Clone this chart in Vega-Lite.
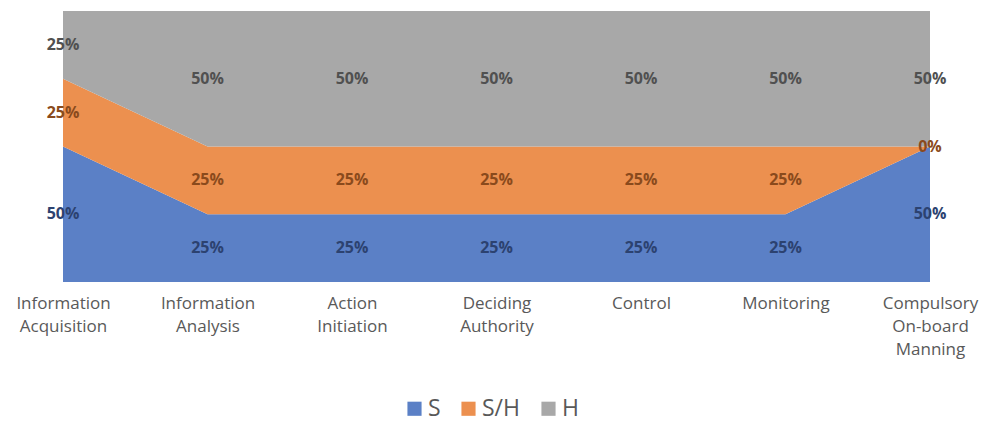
{
  "$schema": "https://vega.github.io/schema/vega-lite/v6.json",
  "autosize": {"type": "none"},
  "width": 867,
  "height": 271,
  "padding": {"left": 63, "top": 11, "right": 52, "bottom": 141},
  "background": "#ffffff",
  "config": {"view": {"stroke": null}, "font": "Open Sans"},
  "data": {
    "values": [
      {"category": "Information Acquisition", "series": "S", "value": 0.5},
      {"category": "Information Acquisition", "series": "S/H", "value": 0.25},
      {"category": "Information Acquisition", "series": "H", "value": 0.25},
      {"category": "Information Analysis", "series": "S", "value": 0.25},
      {"category": "Information Analysis", "series": "S/H", "value": 0.25},
      {"category": "Information Analysis", "series": "H", "value": 0.5},
      {"category": "Action Initiation", "series": "S", "value": 0.25},
      {"category": "Action Initiation", "series": "S/H", "value": 0.25},
      {"category": "Action Initiation", "series": "H", "value": 0.5},
      {"category": "Deciding Authority", "series": "S", "value": 0.25},
      {"category": "Deciding Authority", "series": "S/H", "value": 0.25},
      {"category": "Deciding Authority", "series": "H", "value": 0.5},
      {"category": "Control", "series": "S", "value": 0.25},
      {"category": "Control", "series": "S/H", "value": 0.25},
      {"category": "Control", "series": "H", "value": 0.5},
      {"category": "Monitoring", "series": "S", "value": 0.25},
      {"category": "Monitoring", "series": "S/H", "value": 0.25},
      {"category": "Monitoring", "series": "H", "value": 0.5},
      {"category": "Compulsory On-board Manning", "series": "S", "value": 0.5},
      {"category": "Compulsory On-board Manning", "series": "S/H", "value": 0},
      {"category": "Compulsory On-board Manning", "series": "H", "value": 0.5}
    ]
  },
  "transform": [
    {"calculate": "indexof(['S','S/H','H'], datum.series)", "as": "ord"},
    {"stack": "value", "groupby": ["category"], "sort": [{"field": "ord", "order": "ascending"}], "as": ["v0", "v1"]},
    {"calculate": "(datum.v0 + datum.v1) / 2", "as": "mid"}
  ],
  "encoding": {
    "x": {
      "field": "category",
      "type": "nominal",
      "sort": null,
      "scale": {"type": "point", "padding": 0},
      "axis": {
        "title": null,
        "domain": false,
        "ticks": false,
        "labelAngle": 0,
        "labelExpr": "split(datum.label, ' ')",
        "labelFont": "Open Sans",
        "labelFontSize": 17,
        "labelColor": "#595959",
        "labelPadding": 13,
        "labelLineHeight": 23,
        "labelBaseline": "top",
        "labelOverlap": false
      }
    }
  },
  "layer": [
    {
      "mark": {"type": "area", "opacity": 1},
      "encoding": {
        "y": {"field": "v1", "type": "quantitative", "scale": {"domain": [0, 1]}, "axis": null},
        "y2": {"field": "v0"},
        "color": {
          "field": "series",
          "type": "nominal",
          "sort": ["S", "S/H", "H"],
          "scale": {"domain": ["S", "S/H", "H"], "range": ["#5B80C6", "#EC904F", "#A8A8A8"]},
          "legend": {
            "title": null,
            "orient": "none",
            "direction": "horizontal",
            "legendX": 340,
            "legendY": 386,
            "symbolType": "square",
            "symbolSize": 200,
            "symbolStrokeWidth": 0,
            "labelFont": "Open Sans",
            "labelFontSize": 23,
            "labelColor": "#595959",
            "columnPadding": 16,
            "labelOffset": 2
          }
        },
        "order": {"field": "ord"}
      }
    },
    {
      "mark": {"type": "text", "fontWeight": "bold", "font": "Open Sans", "fontSize": 16, "baseline": "middle", "align": "center"},
      "encoding": {
        "y": {"field": "mid", "type": "quantitative", "scale": {"domain": [0, 1]}},
        "text": {"field": "value", "type": "quantitative", "format": ".0%"},
        "color": {
          "field": "series",
          "type": "nominal",
          "scale": {"domain": ["S", "S/H", "H"], "range": ["#2C4270", "#8A4A1C", "#505050"]},
          "legend": null
        }
      }
    }
  ],
  "resolve": {"scale": {"color": "independent"}}
}
